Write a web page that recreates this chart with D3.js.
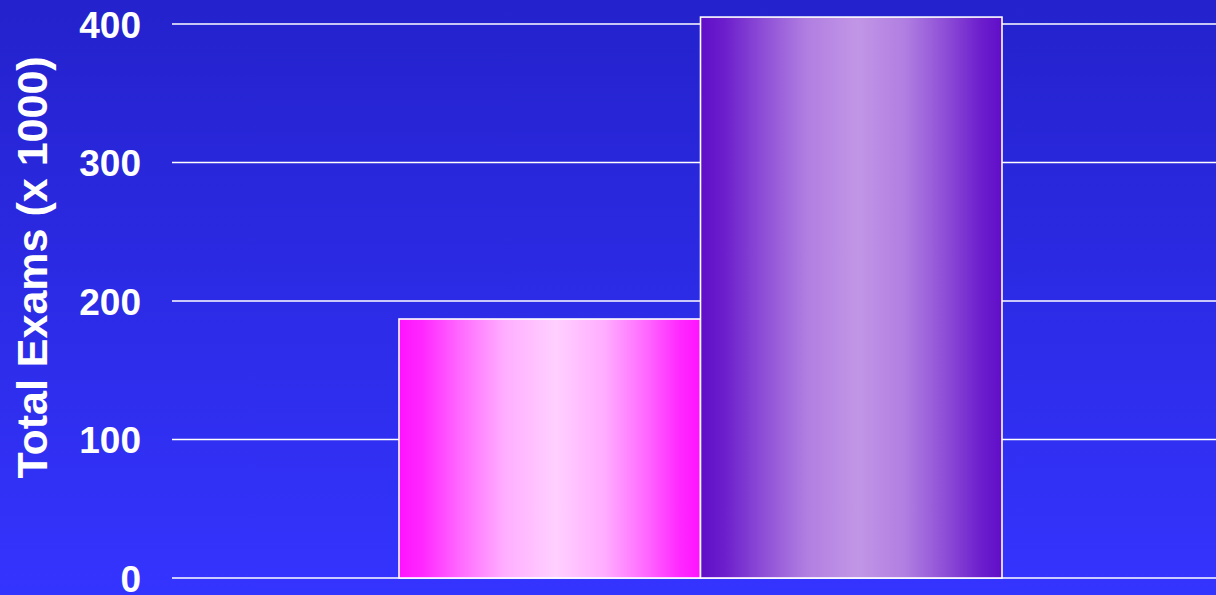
<!DOCTYPE html>
<html>
<head>
<meta charset="utf-8">
<script src="https://cdn.jsdelivr.net/npm/d3@7/dist/d3.min.js"></script>
<style>
  html, body { margin: 0; padding: 0; overflow: hidden; background: #2c2ce8; }
  svg { display: block; }
</style>
</head>
<body>
<svg id="chart" width="1216" height="595"></svg>
<script>
// Chart data
const categories = ["A", "B"];
const totals = [187, 405];           // total exams, thousands
const tickValues = [0, 100, 200, 300, 400];
const tickLabels = ["0", "100", "200", "300", "400"];
const yTitle = "Total Exams (x 1000)";

// Bar fill palettes: edge colour, centre highlight
const barEdge = ["#ff12ff", "#600ec8"];
const barMid  = ["#ffd0ff", "#c296e6"];

const W = 1216, H = 595;
const plot = { left: 172, right: 1216, top: 24, bottom: 578 };

const svg = d3.select("#chart");
const defs = svg.append("defs");

// Background: darker blue at top, brighter at bottom
const bg = defs.append("linearGradient")
  .attr("id", "bg").attr("x1", 0).attr("y1", 0).attr("x2", 0).attr("y2", 1);
bg.append("stop").attr("offset", "0%").attr("stop-color", "#2422cc");
bg.append("stop").attr("offset", "100%").attr("stop-color", "#3434ff");
svg.append("rect").attr("width", W).attr("height", H).attr("fill", "url(#bg)");

// Horizontal cylinder-style shading for each bar
categories.forEach((c, i) => {
  const g = defs.append("linearGradient")
    .attr("id", "bar" + i).attr("x1", 0).attr("y1", 0).attr("x2", 1).attr("y2", 0);
  const mix = d3.interpolateRgb(barEdge[i], barMid[i]);
  [[0, 0], [0.08, 0.12], [0.2, 0.45], [0.35, 0.82], [0.52, 1], [0.68, 0.82], [0.82, 0.45], [0.93, 0.12], [1, 0]]
    .forEach(([o, t]) => g.append("stop").attr("offset", o).attr("stop-color", mix(t)));
});

const y = d3.scaleLinear().domain([0, 400]).range([plot.bottom, plot.top]);
const x = d3.scaleBand().domain(categories).range([399, 1002]).paddingInner(0);

// Gridlines
svg.append("g").selectAll("line").data(tickValues).join("line")
  .attr("x1", plot.left).attr("x2", plot.right)
  .attr("y1", d => y(d)).attr("y2", d => y(d))
  .attr("stroke", "#ffffff").attr("stroke-width", 1.6);

// Y axis labels
const yAxis = d3.axisLeft(y).tickValues(tickValues)
  .tickFormat((d, i) => tickLabels[i]).tickSize(0).tickPadding(31);
const ya = svg.append("g").attr("transform", `translate(${plot.left},0)`).call(yAxis);
ya.select(".domain").remove();
ya.selectAll("text")
  .attr("fill", "#ffffff")
  .attr("font-family", "'Liberation Sans', Arial, sans-serif")
  .attr("font-weight", "bold")
  .attr("font-size", 37)
  .attr("dy", "0.36em");

// Bars
svg.append("g").selectAll("rect").data(totals).join("rect")
  .attr("x", (d, i) => x(categories[i]))
  .attr("y", d => y(d))
  .attr("width", x.bandwidth())
  .attr("height", d => y(0) - y(d))
  .attr("fill", (d, i) => `url(#bar${i})`)
  .attr("stroke", "#ffffff").attr("stroke-width", 1.6);

// Y axis title
svg.append("text")
  .attr("transform", `translate(47,${(57 + 478) / 2}) rotate(-90)`)
  .attr("text-anchor", "middle")
  .attr("fill", "#ffffff")
  .attr("font-family", "'Liberation Sans', Arial, sans-serif")
  .attr("font-weight", "bold")
  .attr("font-size", 43)
  .text(yTitle);
</script>
</body>
</html>
